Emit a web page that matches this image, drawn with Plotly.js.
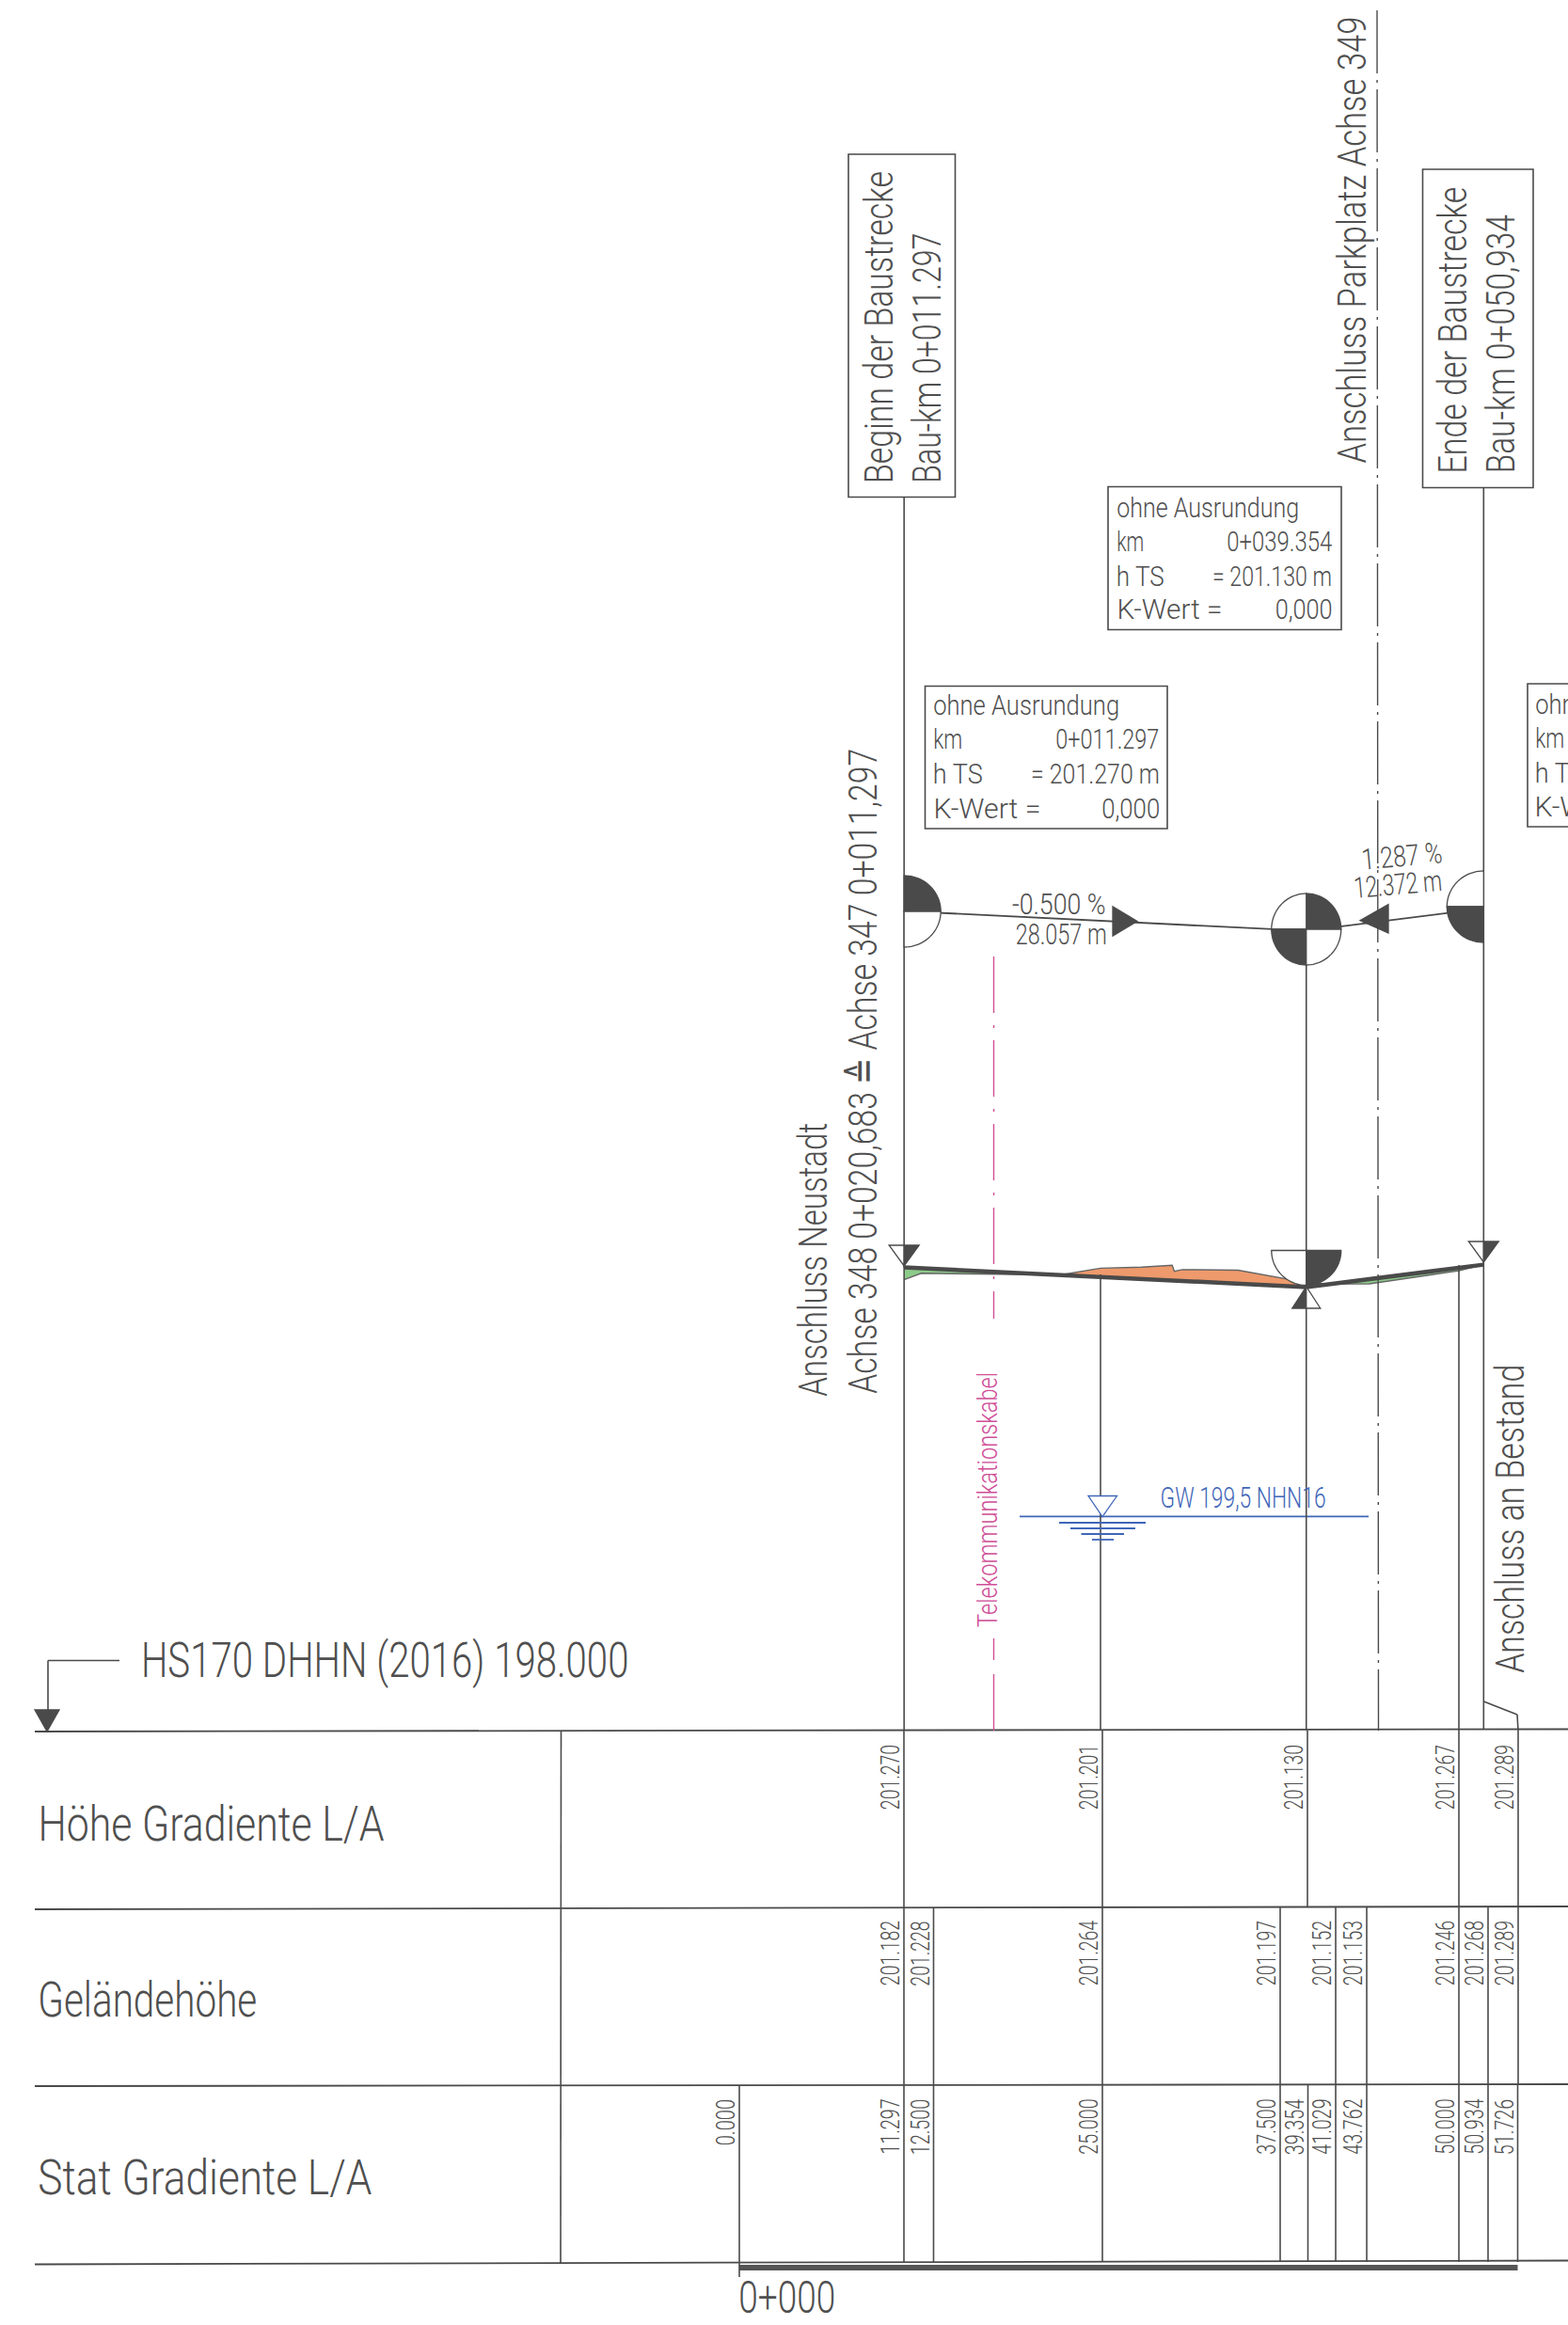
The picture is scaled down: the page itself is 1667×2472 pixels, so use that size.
<!DOCTYPE html>
<html><head><meta charset="utf-8">
<script src="https://cdn.plot.ly/plotly-3.0.1.min.js"></script>
<style>html,body{margin:0;padding:0;background:#fff;overflow:hidden}#c{width:1667px;height:2472px}</style>
</head><body><div id="c"></div>
<script>
// ---------- data ----------
const gradeStations = [11.297, 39.354, 51.726];
const gradeHeights  = [201.270, 201.130, 201.289];
const groundStations = [11.297, 12.5, 22.2, 25, 27.85, 30.0, 30.15, 30.7, 34.6, 37.5, 39.354, 41.029, 43.762, 50, 50.934, 51.726];
const groundHeights  = [201.182, 201.228, 201.216, 201.264, 201.272, 201.285, 201.242, 201.254, 201.250, 201.197, 201.162, 201.152, 201.153, 201.246, 201.268, 201.289];
const groundwaterLevel = 199.5;
const rowHeightLabels = ['201.270','201.201','201.130','201.267','201.289'];
const rowGroundLabels = ['201.182','201.228','201.264','201.197','201.152','201.153','201.246','201.268','201.289'];
const rowStatLabels = ['0.000','11.297','12.500','25.000','37.500','39.354','41.029','43.762','50.000','50.934','51.726'];
const rowNames = ['Höhe Gradiente L/A','Geländehöhe','Stat Gradiente L/A'];

// ---------- sheet layout ----------
const W=1667,H=2472;
const ST0=789, ST_PX=15.24;           // px of station 0, px per metre
const EL0=1837, EL_PX=149.7;          // px of 198.000, px per metre
const TANGENT_LIFT=2.53;              // tangent polygon is drawn this many metres above the profile
const stPx=s=>ST0+ST_PX*s;
const INK='#4a4a4a', TXT='#4f4f4f', FONT='Roboto,"Liberation Sans",sans-serif';
const PINK='#cf4f98', BLUE='#3f66b8';
const px=x=>x/W, py=y=>1-y/H;
const shapes=[], ann=[], lengths=[];
function line(x0,y0,x1,y1,o={}){shapes.push({type:'line',xref:'paper',yref:'paper',x0:px(x0),y0:py(y0),x1:px(x1),y1:py(y1),line:{color:o.c||INK,width:o.w||1.6,dash:o.d||'solid'}});}
function rect(x0,y0,x1,y1){shapes.push({type:'rect',xref:'paper',yref:'paper',x0:px(x0),y0:py(y0),x1:px(x1),y1:py(y1),line:{color:INK,width:1.6},fillcolor:'rgba(0,0,0,0)'});}
function poly(pts,fill,stroke){const d=pts.map((p,i)=>(i?'L':'M')+px(p[0])+','+py(p[1])).join(' ')+' Z';
  shapes.push({type:'path',xref:'paper',yref:'paper',path:d,fillcolor:fill,line:{color:stroke||INK,width:1.3}});}
function sector(cx,cy,rx,ry,a0,a1,fill){const p=[[cx,cy]];for(let i=0;i<=24;i++){const a=(a0+(a1-a0)*i/24)*Math.PI/180;p.push([cx+rx*Math.cos(a),cy-ry*Math.sin(a)]);}poly(p,fill);}
// text centred on (cx,cy), condensed to a run length of L pixels
function t(s,cx,cy,size,L,o={}){lengths.push(L);ann.push({text:s,xref:'paper',yref:'paper',x:px(cx),y:py(cy),showarrow:false,
  xanchor:'center',yanchor:'middle',textangle:o.r||0,font:{family:FONT,size:size,color:o.c||TXT,weight:300},borderpad:0,align:'center'});}
const left=(s,x0,cy,size,L,o)=>t(s,x0+L/2,cy,size,L,o);
const right=(s,x1,cy,size,L,o)=>t(s,x1-L/2,cy,size,L,o);
const rotTop=(s,x,y0,size,L)=>t(s,x,y0+L/2,size,L,{r:-90});

// table frame (the scan is very slightly tilted)
[[1841,1838.5],[2030,2027],[2218,2216],[2407.5,2403.5]].forEach(a=>line(37,a[0],W,a[1],{w:1.8}));
line(596.5,1841,596,2407);
left(rowNames[0],40,1939,52,368);
left(rowNames[1],40,2126,52,233);
left(rowNames[2],40,2315,52,355);

// datum
left('HS170 DHHN (2016) 198.000',149.5,1765,51,518.5);
line(127,1765.5,51,1765.5);line(51,1765.5,51,1818);
poly([[37,1818],[63,1818],[50,1841]],INK);

// table columns, fanned out for readability
const fanHeight=[961,1172,1390,1551,1614];
const fanGround=[961,992.5,1172,1361,1420,1453,1551,1582,1614];
const fanStat=[786,961,992.5,1172,1361,1390.5,1420,1453,1551,1582,1613.5];
const labLen=s=>s.length*9.9;
fanHeight.forEach((x,i)=>{line(x,1840,x,2028);rotTop(rowHeightLabels[i],x-14,1855,27,labLen(rowHeightLabels[i]));});
fanGround.forEach((x,i)=>{line(x,2028,x,2217);rotTop(rowGroundLabels[i],x-14,2042,27,labLen(rowGroundLabels[i]));});
fanStat.forEach((x,i)=>{line(x,2217,x,2405);rotTop(rowStatLabels[i],x-14,2232,27,labLen(rowStatLabels[i]));});

// scale bar
line(786,2411,1613.5,2411,{w:6,c:'#555'});line(786,2406,786,2421);
left('0+000',786,2442,48,103);

// vertical leaders
line(stPx(11.297),528,stPx(11.297),1840);
line(stPx(25),1355,stPx(25),1840);
line(stPx(39.354),1026,stPx(39.354),1840);
line(stPx(50),1345,stPx(50),1840);
line(stPx(51.726),518,stPx(51.726),1839);
line(stPx(51.726),1809,1613,1823);line(1613,1823,1614,1840);
line(1464,11,1465.5,1840,{d:'67px,7px,3px,7px',w:1.4});

// pink cable
line(1056.5,1017,1056.5,1402,{c:PINK,d:'60px,13px,3px,13px',w:1.4});
line(1056.5,1742,1056.5,1765,{c:PINK,w:1.4});
line(1056.5,1780,1056.5,1840,{c:PINK,w:1.4});
t('Telekommunikationskabel',1049,1594.5,30,271,{r:-90,c:PINK});

// station boxes
rect(902,164,1015.5,528.5);
t('Beginn der Baustrecke',933.5,348,43,332,{r:-90});
t('Bau-km 0+011.297',985,381,43,266,{r:-90});
rect(1512.5,180,1630,518.5);
t('Ende der Baustrecke',1544,351,43,305,{r:-90});
t('Bau-km 0+050,934',1595,366,43,275,{r:-90});
t('Anschluss Parkplatz Achse 349',1436,255.5,43,475,{r:-90});
t('Anschluss Neustadt',864,1339.5,43,291,{r:-90});
t('Achse 348 0+020,683 ≙ Achse 347 0+011,297',917,1139,43,686,{r:-90});
t('Anschluss an Bestand',1604.5,1615,43,328,{r:-90});

// tangent info boxes
const infoNames=['ohne Ausrundung','km','h TS','K-Wert ='];
rect(1178,517.5,1426,669.5);
[194,29,51,112].forEach((L,i)=>left(infoNames[i],1187,[539,575,612,647][i],30,L));
right('0+039.354',1416,575,30,112);right('= 201.130 m',1416,612,30,127);right('0,000',1416,647,30,61);
rect(983.5,729.5,1241,881);
[198,31,53,114].forEach((L,i)=>left(infoNames[i],992,[750,786,823,860][i],30,L));
right('0+011.297',1232.5,786,30,110);right('= 201.270 m',1232.5,823,30,137);right('0,000',1232.5,860,30,62);
rect(1624,727,1760,879);
[198,31,53,114].forEach((L,i)=>left(infoNames[i],1632,[748,784,821,858][i],30,L));

// tangent labels
t('-0.500 %',1126,961,31,99.5);
t('28.057 m',1127.5,993,31,97);
t('1.287 %',1490,910,31,86,{r:-5});
t('12.372 m',1486,941,31,94,{r:-5});
poly([[1183,964],[1183,995],[1209,979.5]],INK);
poly([[1476,961.5],[1476,992],[1446,978.7]],INK);

// tangent point symbols
const xA=stPx(11.297),xB=stPx(39.354),xC=stPx(51.726);
sector(xA,969,39,38,0,90,INK);sector(xA,969,39,38,270,360,'#fff');
sector(xB,988,37,38,0,90,INK);sector(xB,988,37,38,90,180,'#fff');sector(xB,988,37,38,180,270,INK);sector(xB,988,37,38,270,360,'#fff');
sector(xC,964,39,38,90,180,'#fff');sector(xC,964,39,38,180,270,INK);

// profile symbols
function tri(xc,top,tip){poly([[xc-16,top],[xc,top],[xc,tip]],'#fff');poly([[xc,top],[xc+16,top],[xc,tip]],INK);}
tri(xA,1324,1346);tri(xC,1320,1342);
poly([[xB-15,1391],[xB,1391],[xB,1368]],INK);poly([[xB,1391],[xB+15,1391],[xB,1368]],'#fff');
sector(xB,1329.5,37,37,180,270,'#fff');sector(xB,1329.5,37,37,270,360,INK);

// groundwater symbol
[[1126,1218,1619],[1138,1207,1625],[1149.5,1195,1631],[1161,1184,1637]].forEach(a=>line(a[0],a[2],a[1],a[2],{c:BLUE,w:1.8}));
poly([[1157,1590.5],[1187.5,1590.5],[1172,1612.5]],'#fff',BLUE);
t('GW 199,5 NHN16',1321,1592,31,176,{c:BLUE});

// ---------- traces ----------
function gradeAt(s){for(let i=0;i<gradeStations.length-1;i++){if(s<=gradeStations[i+1]){const f=(s-gradeStations[i])/(gradeStations[i+1]-gradeStations[i]);return gradeHeights[i]+f*(gradeHeights[i+1]-gradeHeights[i]);}}return gradeHeights[gradeHeights.length-1];}
function band(pred,color){const runs=[];let cur=[];
  groundStations.forEach((s,i)=>{if(pred(groundHeights[i],gradeAt(s)))cur.push(i);else{if(cur.length)runs.push(cur);cur=[];}});
  if(cur.length)runs.push(cur);
  return runs.map(c=>{
    const a=Math.max(c[0]-1,0),b=Math.min(c[c.length-1]+1,groundStations.length-1);
    const xs=[],ys=[];for(let i=a;i<=b;i++){xs.push(groundStations[i]);ys.push(groundHeights[i]);}
    for(let i=b;i>=a;i--){xs.push(groundStations[i]);ys.push(gradeAt(groundStations[i]));}
    return {x:xs,y:ys,type:'scatter',mode:'lines',fill:'toself',fillcolor:color,line:{width:0,color:color},hoverinfo:'skip'};
  });}
const gwX=[(1084-ST0)/ST_PX,(1455-ST0)/ST_PX];
const traces=[
  ...band((g,d)=>g>=d,'#ee9a6c'),
  ...band((g,d)=>g<d,'#8ccb8a'),
  {x:groundStations,y:groundHeights,type:'scatter',mode:'lines',line:{color:'#666',width:1.4},hoverinfo:'skip'},
  {x:gradeStations,y:gradeHeights,type:'scatter',mode:'lines',line:{color:'#4a4a4a',width:4.5},hoverinfo:'skip'},
  {x:gradeStations,y:gradeHeights.map(h=>h+TANGENT_LIFT),type:'scatter',mode:'lines',line:{color:INK,width:1.8},hoverinfo:'skip'},
  {x:gwX,y:[groundwaterLevel,groundwaterLevel],type:'scatter',mode:'lines',line:{color:BLUE,width:1.8},hoverinfo:'skip'}
];
const layout={width:W,height:H,margin:{l:0,r:0,t:0,b:0},showlegend:false,paper_bgcolor:'#fff',plot_bgcolor:'#fff',
  xaxis:{visible:false,range:[-ST0/ST_PX,(W-ST0)/ST_PX],fixedrange:true},
  yaxis:{visible:false,range:[198+(EL0-H)/EL_PX,198+EL0/EL_PX],fixedrange:true},
  shapes:shapes,annotations:ann};
Plotly.newPlot('c',traces,layout,{staticPlot:true,displayModeBar:false}).then(gd=>{
  gd.querySelectorAll('.annotation').forEach(g=>{
    const i=+g.getAttribute('data-index');const el=g.querySelector('text');
    if(el&&lengths[i]){el.setAttribute('textLength',lengths[i]);el.setAttribute('lengthAdjust','spacingAndGlyphs');}
  });
});
</script></body></html>
